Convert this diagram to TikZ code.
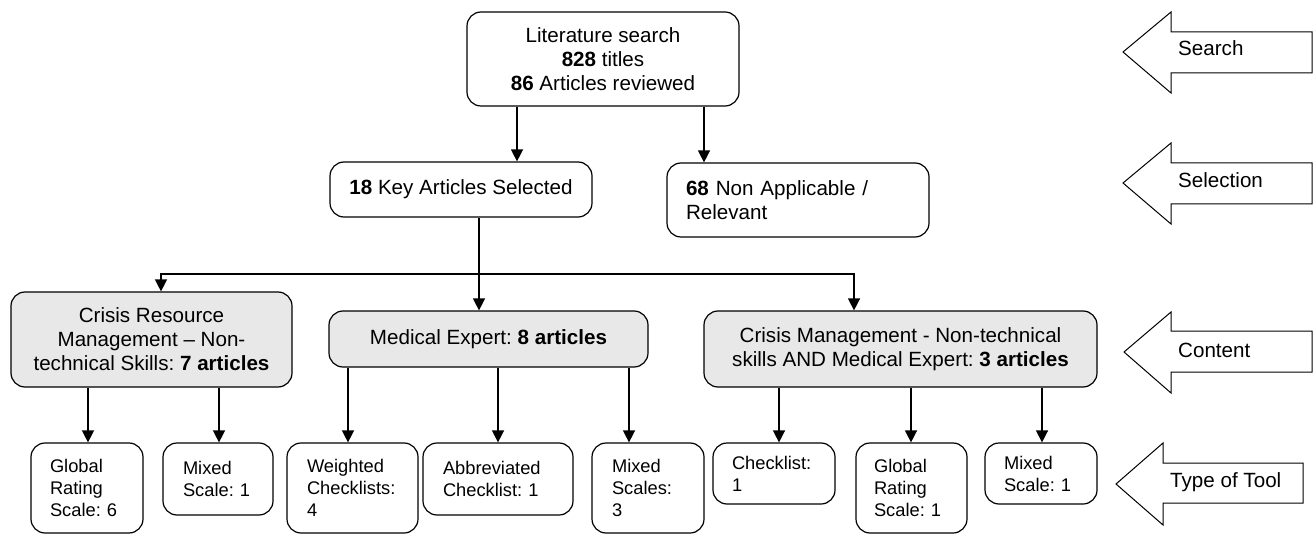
\documentclass[tikz,border=0pt]{standalone}
\usepackage{fontspec}
\setmainfont{Liberation Sans}
\usetikzlibrary{arrows.meta}
\definecolor{boxgray}{RGB}{232,232,232}
\frenchspacing
\begin{document}
\frenchspacing
\begin{tikzpicture}[x=1pt,y=-1pt,
  bx/.style={draw, line width=1.2pt, rounded corners=14pt, inner sep=0pt,
    font=\fontsize{20.6}{24}\selectfont\frenchspacing},
  sm/.style={bx, font=\fontsize{18.3}{22}\selectfont\frenchspacing, align=left},
  gr/.style={fill=boxgray},
  arr/.style={line width=1.4pt, -{Triangle[length=12pt,width=12pt]}},
  big/.style={draw, line width=1pt, line join=miter},
  lab/.style={font=\fontsize{20.6}{24}\selectfont, anchor=base west, inner sep=0pt}]
\useasboundingbox (0,0) rectangle (1313,534);

% main boxes
\node[bx, minimum width=272pt, minimum height=94pt, align=center] (top) at (603,59)
  {Literature search\\\textbf{828} titles\\\textbf{86} Articles reviewed};
\node[bx, minimum width=262pt, minimum height=55pt] (key) at (461,189.5)
  {\textbf{18} Key Articles Selected};
\node[bx, minimum width=262pt, minimum height=74pt, text width=224pt, align=left] (na) at (798,200)
  {\textbf{68} Non Applicable /\\Relevant};
\node[bx, gr, minimum width=281pt, minimum height=95pt, align=center] (crm) at (151.5,339.5)
  {Crisis Resource\\Management – Non-\\technical Skills: \textbf{7 articles}};
\node[bx, gr, minimum width=319pt, minimum height=56pt] (med) at (488.5,339)
  {Medical Expert: \textbf{8 articles}};
\node[bx, gr, minimum width=393pt, minimum height=76pt, align=center] (cm) at (900.5,349)
  {Crisis Management - Non-technical\\skills AND Medical Expert: \textbf{3 articles}};

% tool boxes
\node[sm, minimum width=112pt, minimum height=90pt, text width=74pt] (g1) at (87,488) {Global\\Rating\\Scale: 6};
\node[sm, minimum width=110pt, minimum height=72pt, text width=70pt] (m1) at (218,479) {Mixed\\Scale: 1};
\node[sm, minimum width=131pt, minimum height=90pt, text width=91pt] (w1) at (352.5,488) {Weighted\\Checklists:\\4};
\node[sm, minimum width=150pt, minimum height=72pt, text width=110pt] (ab) at (498,479) {Abbreviated\\Checklist: 1};
\node[sm, minimum width=112pt, minimum height=90pt, text width=72pt] (ms) at (648,488) {Mixed\\Scales:\\3};
\node[sm, minimum width=122pt, minimum height=61pt, text width=84pt] (ck) at (774,473.5) {Checklist:\\1};
\node[sm, minimum width=111pt, minimum height=90pt, text width=75pt] (g2) at (911.5,488) {Global\\Rating\\Scale: 1};
\node[sm, minimum width=112pt, minimum height=61pt, text width=74pt] (m2) at (1041,473.5) {Mixed\\Scale: 1};

% x positions of connectors
\coordinate (ta) at (517,0);
\coordinate (tb) at (704,0);
\coordinate (j) at (479,274);
\coordinate (c1) at (161,0);
\coordinate (c3) at (854,0);
\coordinate (b1) at (88,0);
\coordinate (b2) at (219,0);
\coordinate (b3) at (348,0);
\coordinate (b4) at (498,0);
\coordinate (b5) at (629,0);
\coordinate (b6) at (779,0);
\coordinate (b7) at (911,0);
\coordinate (b8) at (1042,0);

% connectors
\draw[arr] (top.south -| ta) -- (key.north -| ta);
\draw[arr] (top.south -| tb) -- (na.north -| tb);
\draw[line width=1.4pt] (key.south -| j) -- (j);
\draw[arr] (j) -- (med.north -| j);
\draw[arr] (j) -| (crm.north -| c1);
\draw[arr] (j) -| (cm.north -| c3);
\draw[arr] (crm.south -| b1) -- (g1.north -| b1);
\draw[arr] (crm.south -| b2) -- (m1.north -| b2);
\draw[arr] (med.south -| b3) -- (w1.north -| b3);
\draw[arr] (med.south -| b4) -- (ab.north -| b4);
\draw[arr] (med.south -| b5) -- (ms.north -| b5);
\draw[arr] (cm.south -| b6) -- (ck.north -| b6);
\draw[arr] (cm.south -| b7) -- (g2.north -| b7);
\draw[arr] (cm.south -| b8) -- (m2.north -| b8);

% stage arrows
\draw[big] (1123,52) -- (1171,12) -- (1171,32) -- (1312,32) -- (1312,73) -- (1171,73) -- (1171,93) -- cycle;
\node[lab] (lsearch) at (1178,56) {Search};
\draw[big] (1123,183) -- (1171,143) -- (1171,163) -- (1312,163) -- (1312,204) -- (1171,204) -- (1171,224) -- cycle;
\node[lab] (lsel) at (1178,188) {Selection};
\draw[big] (1124,352) -- (1171,312) -- (1171,331) -- (1312,331) -- (1312,372) -- (1171,372) -- (1171,393) -- cycle;
\node[lab] (lcont) at (1178,357) {Content};
\draw[big] (1116,484) -- (1163,443) -- (1163,463) -- (1303,463) -- (1303,503) -- (1163,503) -- (1163,525) -- cycle;
\node[lab] (ltool) at (1170,487) {Type of Tool};
\end{tikzpicture}
\end{document}
